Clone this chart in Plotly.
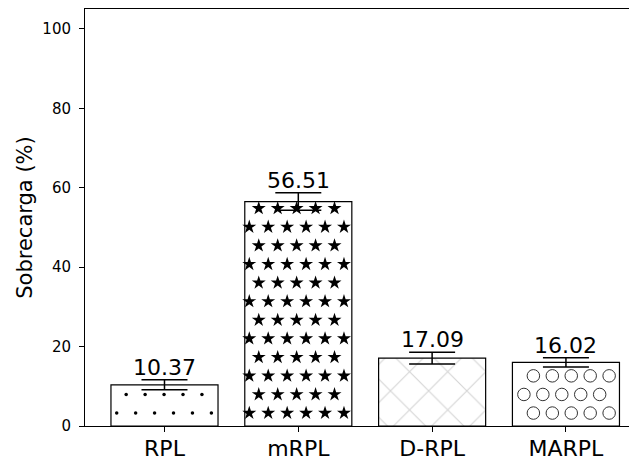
import math
import plotly.graph_objects as go

categories = ["RPL", "mRPL", "D-RPL", "MARPL"]
values = [10.37, 56.51, 17.09, 16.02]
errors = [1.25, 2.2, 1.45, 1.15]
value_labels = ["10.37", "56.51", "17.09", "16.02"]
y_ticks = [0, 20, 40, 60, 80, 100]

# page body has an 8px margin, so the figure is sized to fill the rest of the window
W, H = 629, 453
ML, MR, MT, MB = 77, 0, 1, 33
XR = [-0.594, 3.531]
YR = [0, 105]
BAR_W = 0.8
FONT = "DejaVu Sans"

pw = W - ML - MR
ph = H - MT - MB
sx = pw / (XR[1] - XR[0])
sy = ph / (YR[1] - YR[0])

# hatch lattice (pixels, relative to plot bottom-left)
HX0, HDX, HY0, HDY = 31.7, 18.94, 13.0, 18.7


def lattice(i, margin_x, margin_top):
    xs, ys = [], []
    left_px = (i - BAR_W / 2 - XR[0]) * sx
    right_px = (i + BAR_W / 2 - XR[0]) * sx
    top_px = (values[i] - YR[0]) * sy
    k = 0
    while True:
        py = HY0 + HDY * k
        if py > top_px - margin_top:
            break
        off = HX0 + (HDX / 2 if k % 2 else 0)
        j0 = math.ceil((left_px + margin_x - off) / HDX)
        j1 = math.floor((right_px - margin_x - off) / HDX)
        for j in range(j0, j1 + 1):
            px = off + HDX * j
            xs.append(XR[0] + px / sx)
            ys.append(YR[0] + py / sy)
        k += 1
    return xs, ys


xpos = list(range(len(categories)))

fig = go.Figure()
fig.add_trace(go.Bar(
    x=xpos, y=values, width=BAR_W,
    marker=dict(
        color="white",
        line=dict(color="black", width=1.2),
        pattern=dict(shape=["", "", "x", ""], fgcolor="#aaaaaa", bgcolor="white",
                     size=27, solidity=0.08),
    ),
    hoverinfo="skip", showlegend=False,
))

hatches = {
    0: dict(symbol="circle", size=3.5, color="black", line=dict(width=0), mx=2, mt=3),
    1: dict(symbol="star", size=10.5, color="black", line=dict(width=0), mx=4, mt=5),
    3: dict(symbol="circle-open", size=12.5, color="#333333", line=dict(width=1, color="#333333"), mx=4, mt=6),
}
for i, h in hatches.items():
    xs, ys = lattice(i, h["mx"], h["mt"])
    fig.add_trace(go.Scatter(
        x=xs, y=ys, mode="markers",
        marker=dict(symbol=h["symbol"], size=h["size"], color=h["color"], line=h["line"]),
        hoverinfo="skip", showlegend=False, cliponaxis=True,
    ))

fig.add_trace(go.Scatter(
    x=xpos, y=values, mode="markers",
    marker=dict(size=1, opacity=0),
    error_y=dict(type="data", array=errors, color="black", thickness=1.5, width=23),
    hoverinfo="skip", showlegend=False,
))

for i, (v, e, t) in enumerate(zip(values, errors, value_labels)):
    fig.add_annotation(x=i, y=v + e, text=t, showarrow=False, yanchor="bottom",
                       xanchor="center", yshift=-2,
                       font=dict(family=FONT, size=22, color="black"))

fig.update_layout(
    width=W, height=H,
    margin=dict(l=ML, r=MR, t=MT, b=MB, pad=0),
    paper_bgcolor="white", plot_bgcolor="white",
    font=dict(family=FONT, color="black"),
)
fig.update_xaxes(
    range=XR, tickvals=xpos, ticktext=categories,
    showline=True, mirror=True, linecolor="black", linewidth=1,
    ticks="outside", ticklen=5, tickcolor="black", tickwidth=1,
    tickfont=dict(family=FONT, size=22, color="black"),
    ticklabelstandoff=-2,
    showgrid=False, zeroline=False,
)
fig.update_yaxes(
    range=YR, tickvals=y_ticks,
    showline=True, mirror=False, linecolor="black", linewidth=1,
    ticks="outside", ticklen=5, tickcolor="black", tickwidth=1,
    tickfont=dict(family=FONT, size=15, color="black"),
    ticklabelstandoff=5,
    title=dict(text="Sobrecarga (%)", standoff=4,
               font=dict(family=FONT, size=21, color="black")),
    showgrid=False, zeroline=False,
)

fig.write_html("out.html")
